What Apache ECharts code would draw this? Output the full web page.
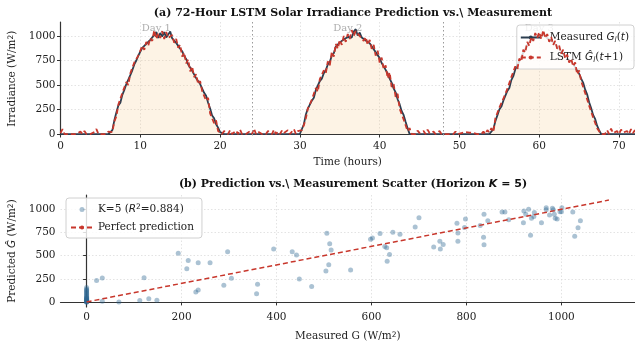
<!DOCTYPE html>
<html><head><meta charset="utf-8">
<script src="https://cdn.jsdelivr.net/npm/echarts@6/dist/echarts.min.js"></script>
<style>html,body{margin:0;padding:0;background:#fff}#c{width:635px;height:349px}</style>
</head><body><div id="c"></div>
<script>
// ---- Data (top panel: 0.25 h step, one row per hour) ----
const timeStepHours = 0.25;
const measured = [
0,0,0,0, 0,0,0,0, 0,0,0,0, 0,0,0,0, 0,0,0,0, 0,0,0,0,
0,0,40,140, 220,290,320,400, 450,510,530,600, 650,710,750,800,
820,880,880,920, 920,960,975,1010, 1040,980,1030,995, 1040,985,1015,1045,
975,965,930,925, 870,845,795,765, 710,690,645,625, 570,560,510,490,
420,390,320,260, 190,160,100,65, 20,0,0,0,
0,0,0,0, 0,0,0,0, 0,0,0,0, 0,0,0,0, 0,0,0,0, 0,0,0,0, 0,0,0,0, 0,0,0,0, 0,0,0,0,
0,0,100,200, 260,280,340,370, 450,465,540,565, 620,650,710,735,
800,825,890,905, 935,940,965,965, 990,1005,985,1045, 1070,1005,1035,985,
985,955,945,925, 905,865,845,805, 775,725,705,655, 615,565,525,465,
425,355,305,235, 195,125,60,0,
0,0,0,0, 0,0,0,0, 0,0,0,0, 0,0,0,0, 0,0,0,0, 0,0,0,0, 0,0,0,0, 0,0,0,0, 0,0,0,0, 0,0,0,0,
0,50,130,190, 250,280,340,360, 440,470,550,590, 660,680,740,760,
830,850,910,920, 960,960,1000,990, 1015,985,1025,995, 995,965,965,935,
925,895,875,845, 835,795,785,755, 745,715,705,645, 615,565,525,455,
405,325,265,195, 155,85,40,0,
0,0,0,0, 0,0,0,0, 0,0,0,0, 0,0,0,0,
0
];
const predicted = [
10,50,0,10, 0,15,0,20, 0,10,25,0, 30,0,10,0, 0,20,50,0, 10,0,15,0,
25,10,20,130, 180,300,280,420, 420,530,500,620, 620,730,720,800,
800,900,860,940, 900,980,950,1060, 970,1030,980,1050, 970,1040,980,1000,
1010,930,970,880, 910,790,830,720, 760,640,690,580, 610,510,540,440,
460,340,370,210, 230,110,140,30, 50,0,30,10,
0,40,0,15, 35,0,45,0, 20,0,10,30, 0,55,0,25, 40,0,20,0, 30,10,0,45, 0,25,0,35, 10,0,40,0, 20,50,0,30,
10,40,90,160, 260,250,350,350, 470,430,560,540, 650,620,740,700,
840,790,920,870, 960,910,1000,940, 1020,970,1060,1000, 1050,1040,1000,1020,
950,990,910,960, 870,910,800,850, 730,780,660,700, 570,630,480,510,
380,410,260,280, 150,170,30,60,
0,20,0,35, 10,0,30,0, 45,10,0,25, 0,15,30,0, 20,0,10,0, 15,0,25,0, 0,10,0,20, 0,15,0,10, 20,0,10,0, 25,0,40,15,
60,20,160,180, 270,260,360,340, 460,450,580,570, 690,660,770,740,
860,830,940,900, 990,950,1030,980, 1040,970,1060,980, 1020,940,990,910,
950,870,900,820, 860,770,810,730, 770,690,730,610, 650,540,560,420,
440,290,300,170, 190,60,80,0,
20,0,40,0, 55,10,0,30, 0,45,15,0, 30,0,50,10,
40
];
const dayLabels = ['Day 1', 'Day 2', 'Day 3'];
const dayCenters = [12, 36, 60];
const daySeparators = [24, 48];
const timeTicks = [0, 10, 20, 30, 40, 50, 60, 70];
const irrTicks = [0, 250, 500, 750, 1000];

// ---- Data (bottom panel scatter) ----
const scatterMeasured = [
0,0,0,0,0,0,0,0,0,0,0,0,0,0,0,0,0,0,0,0,0,0,0,
21,33,33,68,112,131,148,121,193,214,211,235,260,230,235,297,305,289,360,358,
394,433,442,448,474,506,512,515,510,504,556,598,602,618,628,632,638,633,645,660,
692,700,731,744,745,751,782,782,780,796,798,829,837,845,836,837,875,881,889,
920,921,925,931,937,935,942,943,958,968,968,975,981,983,985,987,991,997,1001,1000,
1024,1028,1040,1035
];
const scatterPredicted = [
0,0,0,5,10,15,20,25,30,35,40,45,50,60,70,80,90,100,110,120,130,140,155,
230,259,7,0,14,35,18,262,525,447,358,422,422,106,128,543,255,181,191,89,
571,543,507,248,167,741,628,560,401,333,344,677,691,738,599,585,511,440,752,730,
809,908,592,656,571,620,656,745,851,805,897,826,947,876,699,617,972,972,887,
855,982,947,1000,904,720,922,965,855,1018,996,940,1011,996,947,904,897,975,1018,975,
972,709,876,801
];
const perfectLine = [0, 1100];
const scatterTicksX = [0, 200, 400, 600, 800, 1000];
const scatterTicksY = [0, 250, 500, 750, 1000];

// ---- Build ----
const serif = 'DejaVu Serif';
const mathF = 'DejaVu Sans';
const FS = 10.5;
const timeSeries = (arr) => arr.map((v, i) => [i * timeStepHours, v]);
const scatterData = scatterMeasured.map((x, i) => [x, scatterPredicted[i]]);

const axisLine = { show: true, lineStyle: { color: '#333', width: 1.2 } };
const axisTick = (vals) => ({ show: true, length: 3.5, lineStyle: { color: '#333', width: 1 }, customValues: vals });
const splitLine = { show: true, lineStyle: { color: '#dcdcdc', width: 0.8, type: [1.5, 2] } };
const axisLabel = (vals) => ({ color: '#222', fontFamily: serif, fontSize: FS, margin: 5, customValues: vals,
  formatter: (v) => String(v) });

const rich = {
  t: { fontFamily: serif, fontSize: FS, color: '#222' },
  i: { fontFamily: mathF, fontStyle: 'italic', fontSize: FS, color: '#222' },
  s: { fontFamily: mathF, fontStyle: 'italic', fontSize: 7.5, color: '#222', verticalAlign: 'bottom', lineHeight: 9 },
  u: { fontFamily: mathF, fontSize: 7.5, color: '#222', verticalAlign: 'top', lineHeight: 9 },
  tb: { fontFamily: serif, fontWeight: 'bold', fontSize: 11, color: '#111' },
  ib: { fontFamily: mathF, fontStyle: 'italic', fontSize: 11, color: '#111' },
  sb: { fontFamily: mathF, fontSize: 11, color: '#111' }
};

const legendNames = {
  meas: '{t|Measured }{i|G}{s|l}{t|(}{i|t}{t|)}',
  pred: '{t|LSTM }{i|Ĝ}{s|l}{t|(}{i|t}{t|+1)}',
  k5: '{t|K=5 (}{i|R}{u|2}{t|=0.884)}',
  perfect: '{t|Perfect prediction}'
};

const option = {
  animation: false,
  backgroundColor: '#fff',
  title: [
    { text: '(a) 72-Hour LSTM Solar Irradiance Prediction vs.\\ Measurement', left: 348, top: 3, textAlign: 'center',
      textStyle: { fontFamily: serif, fontWeight: 'bold', fontSize: 11, color: '#111' } },
    { text: '{tb|(b) Prediction vs.\\ Measurement Scatter (Horizon }{ib|K}{sb| = 5}{tb|)}', left: 348, top: 174, textAlign: 'center',
      textStyle: { rich: rich } }
  ],
  legend: [
    { data: ['meas', 'pred'], orient: 'vertical', align: 'left', right: 1, top: 25, itemWidth: 20, itemHeight: 5, itemGap: 7,
      padding: [6, 5, 5, 3], backgroundColor: 'rgba(255,255,255,0.82)', borderColor: '#d0d0d0', borderWidth: 1, borderRadius: 3,
      formatter: (n) => legendNames[n], textStyle: { rich: rich, lineHeight: 13, padding: [0, 0, 0, 4] } },
    { data: ['k5', 'perfect'], orient: 'vertical', align: 'left', left: 66, top: 198, itemWidth: 22, itemHeight: 5, itemGap: 5,
      padding: [5, 8, 4, 4], backgroundColor: 'rgba(255,255,255,0.82)', borderColor: '#d0d0d0', borderWidth: 1, borderRadius: 3,
      formatter: (n) => legendNames[n], textStyle: { rich: rich, lineHeight: 13 } }
  ],
  grid: [
    { left: 60.5, right: 0, top: 22, height: 113.5, outerBoundsMode: 'none', containLabel: false },
    { left: 60.5, right: 0, top: 195, height: 112, outerBoundsMode: 'none', containLabel: false }
  ],
  xAxis: [
    { gridIndex: 0, type: 'value', min: 0, max: 72,
      axisLine, axisTick: axisTick(timeTicks), splitLine, axisLabel: axisLabel(timeTicks),
      name: 'Time (hours)', nameLocation: 'middle', nameGap: 21, nameTextStyle: { fontFamily: serif, fontSize: FS, color: '#222' } },
    { gridIndex: 1, type: 'value', min: -55, max: 1155,
      axisLine, axisTick: axisTick(scatterTicksX), splitLine, axisLabel: axisLabel(scatterTicksX),
      name: '{t|Measured G (W/m}{u|2}{t|)}', nameLocation: 'middle', nameGap: 24, nameTextStyle: { rich: rich } }
  ],
  yAxis: [
    { gridIndex: 0, type: 'value', min: -15, max: 1143,
      axisLine, axisTick: axisTick(irrTicks), splitLine, axisLabel: axisLabel(irrTicks),
      name: '{t|Irradiance (W/m}{u|2}{t|)}', nameLocation: 'middle', nameGap: 37, nameRotate: 90, nameTextStyle: { rich: rich } },
    { gridIndex: 1, type: 'value', min: -55, max: 1155,
      axisLine, axisTick: axisTick(scatterTicksY), splitLine, axisLabel: axisLabel(scatterTicksY),
      name: '{t|Predicted }{i|Ĝ}{t| (W/m}{u|2}{t|)}', nameLocation: 'middle', nameGap: 37, nameRotate: 90, nameTextStyle: { rich: rich } }
  ],
  series: [
    { type: 'scatter', xAxisIndex: 0, yAxisIndex: 0, symbolSize: 0, z: 1, silent: true,
      data: dayCenters.map((h, i) => ({ value: [h, 1078], name: dayLabels[i] })),
      label: { show: true, position: 'inside', formatter: (p) => p.name, fontFamily: serif, fontSize: 10, color: '#999' },
      markLine: { silent: true, symbol: 'none', label: { show: false },
        lineStyle: { color: '#9a9a9a', width: 1, type: [1.5, 2.5] },
        data: daySeparators.map((h) => ({ xAxis: h })) } },
    { name: 'meas', type: 'line', xAxisIndex: 0, yAxisIndex: 0, data: timeSeries(measured), showSymbol: false, symbol: 'none', z: 3,
      lineStyle: { color: '#2c3e50', width: 1.8 }, itemStyle: { color: '#2c3e50' },
      areaStyle: { color: 'rgba(245,200,140,0.32)', origin: 0 } },
    { name: 'pred', type: 'line', xAxisIndex: 0, yAxisIndex: 0, data: timeSeries(predicted), showSymbol: false, symbol: 'none', z: 4,
      lineStyle: { color: '#c8372c', width: 1.8, type: [5, 3] }, itemStyle: { color: '#c8372c' } },
    { name: 'k5', type: 'scatter', xAxisIndex: 1, yAxisIndex: 1, data: scatterData, symbolSize: 5, z: 3,
      itemStyle: { color: 'rgba(46,102,144,0.5)' } },
    { name: 'perfect', type: 'line', xAxisIndex: 1, yAxisIndex: 1, data: perfectLine.map((v) => [v, v]), showSymbol: false, symbol: 'none', z: 4,
      lineStyle: { color: '#c8372c', width: 1.5, type: [5, 3] }, itemStyle: { color: '#c8372c' } }
  ]
};
const chart = echarts.init(document.getElementById('c'), null, { renderer: 'canvas' });
chart.setOption(option);
</script></body></html>
